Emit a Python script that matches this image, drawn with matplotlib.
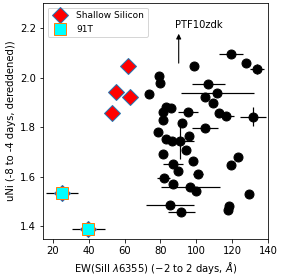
import matplotlib as mpl
mpl.use('Agg')
import matplotlib.pyplot as plt
import numpy as np

# normal SNe Ia: EW(SiII 6355) vs uNi
ew = np.array([119.4, 127.8, 133.7, 98.7, 79.1, 80.0, 73.7, 106.8, 111.7, 104.9,
               109.1, 83.3, 85.7, 81.6, 95.3, 112.7, 116.8, 131.4, 81.6, 92.0,
               104.9, 78.5, 83.3, 86.6, 91.0, 95.7, 94.3, 81.6, 98.1, 86.8,
               89.8, 123.2, 119.4, 100.9, 81.8, 87.3, 96.7, 99.8, 129.6, 85.6,
               91.7, 118.1, 117.7])
uni = np.array([2.095, 2.058, 2.035, 2.049, 2.007, 1.979, 1.936, 1.975, 1.938, 1.920,
                1.898, 1.881, 1.879, 1.863, 1.861, 1.858, 1.845, 1.842, 1.827, 1.815,
                1.795, 1.780, 1.751, 1.746, 1.744, 1.764, 1.707, 1.691, 1.665, 1.651,
                1.624, 1.681, 1.647, 1.610, 1.593, 1.568, 1.559, 1.543, 1.528, 1.485,
                1.456, 1.479, 1.464])
ew_err = np.array([6.5, 0, 4.0, 0, 0, 0, 0, 9.1, 20.4, 0,
                   0, 0, 0, 0, 5.5, 0, 4.0, 7.2, 0, 0,
                   7.4, 0, 0, 0, 8.0, 0, 0, 0, 0, 5.6,
                   0, 0, 0, 3.0, 3.5, 0, 16.4, 0, 0, 13.4,
                   7.4, 0, 0])
uni_err = np.zeros(len(uni))
uni_err[2] = 0.02
uni_err[17] = 0.038
uni_err[24] = 0.074

# shallow silicon (incl. 91T)
ss_ew = [52.8, 55.2, 62.0, 63.3, 25.3, 39.8]
ss_uni = [1.856, 1.943, 2.047, 1.921, 1.532, 1.386]

# 91T
t91_ew = [25.3, 39.8]
t91_uni = [1.532, 1.386]
t91_err = [8.8, 9.3]

fig = plt.figure(figsize=(287 / 72., 280 / 72.), dpi=72)
ax = fig.add_subplot(111)
fig.subplots_adjust(left=0.150, right=0.934, top=0.989, bottom=0.146)

ax.errorbar(ew, uni, xerr=ew_err, yerr=uni_err, fmt='o', color='k', ms=9,
            elinewidth=1.2, capsize=0, zorder=2)
ax.errorbar(t91_ew, t91_uni, xerr=t91_err, fmt='none', ecolor='k',
            elinewidth=1.2, capsize=0, zorder=2)
ax.plot(ss_ew, ss_uni, 'D', ms=12, mfc='r', mec='#1f77b4', mew=1,
        ls='none', label='Shallow Silicon', zorder=3)
ax.plot(t91_ew, t91_uni, 's', ms=12, mfc='cyan', mec='#ff7f0e', mew=1,
        ls='none', label='91T', zorder=4)

# PTF10zdk is off the top of the plot
ax.annotate('', xy=(90.2, 2.186), xytext=(90.2, 2.051),
            arrowprops=dict(arrowstyle='-|>', color='k', lw=1.1, mutation_scale=10))
ax.text(87.9, 2.213, 'PTF10zdk', fontsize=10, va='center', ha='left')

ax.set_xlim(14.6, 140)
ax.set_ylim(1.347, 2.302)
ax.set_xticks([20, 40, 60, 80, 100, 120, 140])
ax.set_yticks([1.4, 1.6, 1.8, 2.0, 2.2])
ax.set_xlabel(r'EW(SiII $\lambda$6355) ($-$2 to 2 days, $\AA$)')
ax.set_ylabel('uNi (-8 to -4 days, dereddened))')
ax.legend(loc='upper left', numpoints=1, fontsize=9)

plt.savefig('out.png', dpi=72)
plt.close()
